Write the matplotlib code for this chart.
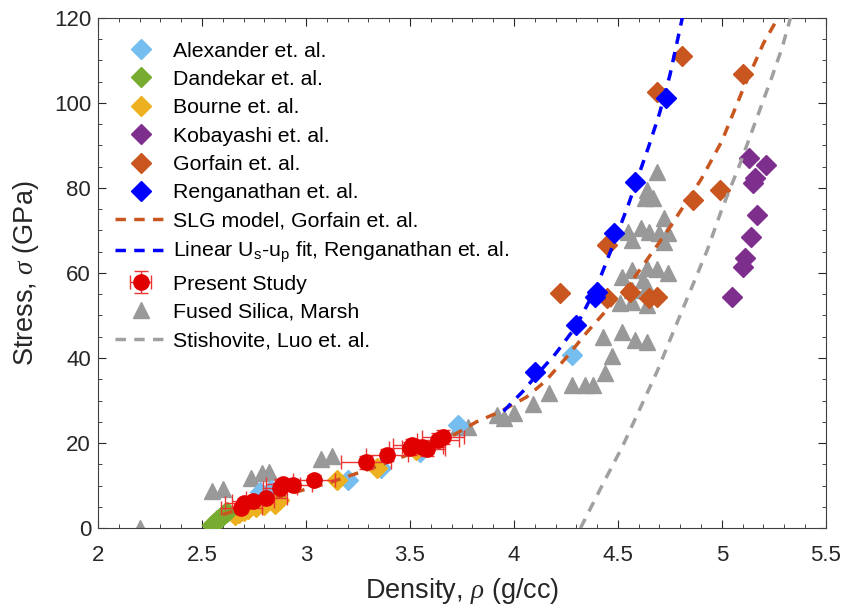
import numpy as np
import matplotlib
matplotlib.use("Agg")
import matplotlib.pyplot as plt
from matplotlib.ticker import MultipleLocator, FormatStrFormatter

plt.rcParams['font.family'] = ['Liberation Sans', 'DejaVu Sans']
plt.rcParams['mathtext.fontset'] = 'custom'
plt.rcParams['mathtext.rm'] = 'Liberation Sans'
plt.rcParams['mathtext.it'] = 'Liberation Serif:italic'

# data (density g/cc, stress GPa)
alex_x = [2.78, 2.83, 3.20, 3.36, 3.55, 3.73, 4.28]
alex_y = [8.5, 9.0, 11.3, 14.1, 17.8, 24.2, 40.7]

dand_x = [2.55, 2.56, 2.57, 2.58, 2.59, 2.60, 2.61, 2.62]
dand_y = [0.8, 1.3, 1.8, 2.2, 2.7, 3.1, 3.5, 3.9]

bourne_x = [2.66, 2.68, 2.70, 2.72, 2.76, 2.80, 2.85, 2.87, 3.15, 3.34, 3.53]
bourne_y = [3.2, 3.6, 4.0, 4.5, 5.0, 5.4, 5.6, 6.6, 11.3, 14.1, 18.3]

kob_x = [5.05, 5.10, 5.11, 5.14, 5.17, 5.15, 5.16, 5.13, 5.21]
kob_y = [54.3, 61.5, 63.5, 68.5, 73.6, 81.2, 82.3, 87.0, 85.4]

gorf_x = [4.22, 4.45, 4.45, 4.56, 4.65, 4.69, 4.86, 4.99, 4.69, 4.81, 5.10]
gorf_y = [55.3, 66.6, 54.2, 55.5, 54.0, 54.4, 77.2, 79.5, 102.6, 111.0, 106.8]

reng_x = [4.10, 4.30, 4.39, 4.40, 4.48, 4.58, 4.73]
reng_y = [36.7, 47.8, 54.4, 55.5, 69.4, 81.4, 101.2]

slg_x = [2.60, 2.90, 3.10, 3.30, 3.50, 3.70, 3.82, 3.93, 4.06, 4.15, 4.25, 4.35, 4.45,
         4.56, 4.65, 4.74, 4.80, 4.90, 5.00, 5.10, 5.20, 5.27]
slg_y = [3.2, 7.8, 10.5, 13.8, 17.4, 21.6, 25.0, 27.3, 30.8, 34.5, 40.0, 46.0, 51.5,
         57.6, 63.8, 70.0, 74.5, 82.0, 91.0, 103.0, 114.0, 120.0]

lin_x = [3.95, 4.05, 4.10, 4.20, 4.30, 4.40, 4.48, 4.55, 4.60, 4.65, 4.70, 4.75, 4.81]
lin_y = [27.5, 32.5, 35.5, 41.0, 47.5, 57.0, 67.0, 76.0, 83.0, 90.0, 97.5, 106.5, 120.0]

present_x = [2.69, 2.70, 2.745, 2.81, 2.875, 2.89, 2.94, 3.04, 3.29, 3.39, 3.50, 3.51,
             3.56, 3.58, 3.635, 3.66]
present_y = [4.8, 5.9, 6.4, 7.1, 9.5, 10.3, 10.1, 11.3, 15.5, 17.2, 18.8, 19.5,
             19.1, 18.5, 20.7, 21.4]
present_xerr = [0.10, 0.09, 0.10, 0.10, 0.08, 0.08, 0.09, 0.10, 0.12, 0.10, 0.10, 0.09,
                0.10, 0.09, 0.10, 0.10]
present_yerr = [1.0, 1.0, 1.0, 1.0, 1.2, 1.2, 1.2, 1.2, 1.5, 1.5, 1.5, 1.5,
                1.5, 1.5, 1.6, 1.6]

marsh_x = [2.20, 2.55, 2.60, 2.735, 2.79, 2.82, 3.07, 3.125, 3.73, 3.78,
           3.92, 3.95, 4.00, 4.09, 4.17, 4.28, 4.34, 4.38, 4.44, 4.47,
           4.43, 4.52, 4.58, 4.64, 4.51, 4.57, 4.64, 4.52, 4.57, 4.62,
           4.64, 4.57, 4.64, 4.69, 4.74, 4.55, 4.61, 4.65, 4.70, 4.74,
           4.72, 4.57, 4.72, 4.63, 4.67, 4.64, 4.69]
marsh_y = [0.0, 8.7, 9.2, 11.8, 13.0, 13.2, 16.2, 17.0, 23.8, 23.8,
           26.6, 26.0, 27.0, 29.2, 31.8, 33.6, 33.6, 33.6, 36.5, 40.5,
           45.0, 46.0, 44.2, 43.8, 53.0, 53.2, 52.5, 59.0, 56.0, 58.4,
           56.7, 60.7, 61.2, 61.0, 60.0, 69.6, 70.6, 69.6, 69.4, 69.4,
           67.3, 67.8, 73.0, 77.6, 77.6, 79.5, 83.8]

stish_x = [4.32, 4.43, 4.52, 4.61, 4.69, 4.77, 4.85, 4.93, 5.00, 5.09, 5.17, 5.24, 5.29, 5.33]
stish_y = [0.0, 10.6, 19.0, 28.5, 37.0, 46.6, 56.0, 65.4, 75.0, 86.0, 96.7, 106.0, 113.0, 120.0]

fig = plt.figure(figsize=(8.41, 6.12), dpi=100)
ax = fig.add_axes([0.1165, 0.137, 0.8655, 0.834])

ms_d = 10.5
h_marsh, = ax.plot(marsh_x, marsh_y, '^', color='#999999', ms=12, mec='#999999', zorder=2)
h_alex, = ax.plot(alex_x, alex_y, 'D', color='#77BEF0', ms=ms_d, mec='#77BEF0', zorder=3)
h_bourne, = ax.plot(bourne_x, bourne_y, 'D', color='#EDB120', ms=ms_d, mec='#EDB120', zorder=3)
h_dand, = ax.plot(dand_x, dand_y, 'D', color='#77AC30', ms=ms_d, mec='#77AC30', zorder=3)
h_kob, = ax.plot(kob_x, kob_y, 'D', color='#7E2F8E', ms=ms_d, mec='#7E2F8E', zorder=3)
h_gorf, = ax.plot(gorf_x, gorf_y, 'D', color='#C8561E', ms=ms_d, mec='#C8561E', zorder=3)
h_reng, = ax.plot(reng_x, reng_y, 'D', color='#0000FF', ms=ms_d, mec='#0000FF', zorder=3)
h_slg, = ax.plot(slg_x, slg_y, '--', color='#C8561E', lw=2.5, dashes=(3, 2.4), zorder=4)
h_lin, = ax.plot(lin_x, lin_y, '--', color='#0000FF', lw=2.5, dashes=(3, 2.4), zorder=4)
h_stish, = ax.plot(stish_x, stish_y, '--', color='#A0A0A0', lw=2.5, dashes=(3, 2.4), zorder=4)
h_pres = ax.errorbar(present_x, present_y, xerr=present_xerr, yerr=present_yerr, fmt='o',
                     color='#E00000', mec='#E00000', ms=11, ecolor='#EE3333',
                     elinewidth=1, capsize=5, zorder=5)

ax.set_xlim(2, 5.5)
ax.set_ylim(0, 120)
ax.xaxis.set_major_locator(MultipleLocator(0.5))
ax.xaxis.set_minor_locator(MultipleLocator(0.1))
ax.yaxis.set_major_locator(MultipleLocator(20))
ax.yaxis.set_minor_locator(MultipleLocator(5))
ax.xaxis.set_major_formatter(FormatStrFormatter('%g'))
ax.tick_params(which='both', direction='in', top=True, right=True, colors='#262626',
               labelsize=16)
ax.tick_params(which='major', length=6, width=0.8)
ax.tick_params(which='minor', length=3, width=0.6)
ax.tick_params(axis='x', which='major', pad=12)
ax.tick_params(axis='y', which='major', pad=5)
for s in ax.spines.values():
    s.set_color('#404040')
    s.set_linewidth(0.8)

ax.set_xlabel(r'Density, $\rho$ (g/cc)', fontsize=19.5, color='#262626', labelpad=7)
ax.set_ylabel(r'Stress, $\sigma$ (GPa)', fontsize=19.5, color='#262626', labelpad=9)

handles = [h_alex, h_dand, h_bourne, h_kob, h_gorf, h_reng, h_slg, h_lin, h_pres, h_marsh, h_stish]
labels = ['Alexander et. al.', 'Dandekar et. al.', 'Bourne et. al.', 'Kobayashi et. al.',
          'Gorfain et. al.', 'Renganathan et. al.', 'SLG model, Gorfain et. al.',
          r'Linear U$_\mathregular{s}$-u$_\mathregular{p}$ fit, Renganathan et. al.',
          'Present Study', 'Fused Silica, Marsh', 'Stishovite, Luo et. al.']
ax.legend(handles, labels, loc='upper left', bbox_to_anchor=(0.012, 0.97), frameon=False,
          fontsize=15.3, numpoints=1, handlelength=2.4, handletextpad=0.3,
          labelspacing=0.44, borderaxespad=0)

fig.savefig('out.png', dpi=100)
plt.close()
